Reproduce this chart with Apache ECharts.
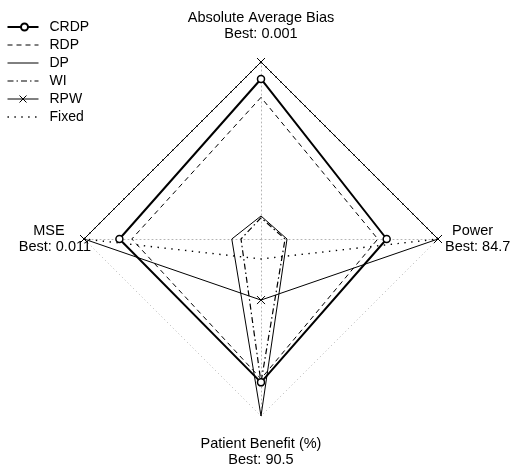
<!DOCTYPE html>
<html>
<head>
<meta charset="utf-8">
<script src="https://cdn.jsdelivr.net/npm/echarts@6/dist/echarts.min.js"></script>
<style>
  html, body { margin: 0; padding: 0; background: #fff; }
  #chart { width: 510px; height: 468px; }
</style>
</head>
<body>
<div id="chart"></div>
<script>
// Radar axes (counter-clockwise from the top) and the best value reached on each
const indicatorNames = ['Absolute Average Bias', 'MSE', 'Patient Benefit (%)', 'Power'];
const bestValues = ['0.001', '0.011', '90.5', '84.7'];

// Normalised scores per design, in indicator order
const designNames = ['CRDP', 'RDP', 'DP', 'WI', 'RPW', 'Fixed'];
const crdp  = [0.904, 0.80, 0.81, 0.71];
const rdp   = [0.80, 0.73, 0.79, 0.66];
const dp    = [0.13, 0.165, 1.0, 0.147];
const wi    = [0.12, 0.113, 0.81, 0.136];
const rpw   = [1.0, 1.0, 0.345, 1.0];
const fixed = [1.0, 1.0, 0.113, 1.0];

const FONT = '"Liberation Sans", Arial, sans-serif';
const GRID_GREY = '#b4b4b4';

// Legend glyphs; the leading moves pin every glyph box to 39 x 8
const BOX = 'M0,0M39,8';
const ICON_LINE = BOX + 'M2,4L33,4';
const ICON_CIRCLE = BOX + 'M2,4L15.5,4M22.5,4L33,4M22.5,4A3.5,3.5,0,1,1,15.5,4A3.5,3.5,0,1,1,22.5,4';
const ICON_CROSS = BOX + 'M2,4L33,4M14,0.5L21,7.5M21,0.5L14,7.5';
const CROSS_SYMBOL = 'path://M0,0L10,10M10,0L0,10';

const styles = {
  CRDP:  { width: 2,   type: 'solid',          icon: ICON_CIRCLE },
  RDP:   { width: 1,   type: [5, 4],           icon: ICON_LINE },
  DP:    { width: 1,   type: 'solid',          icon: ICON_LINE },
  WI:    { width: 1.2, type: [6, 3, 1.5, 3],   icon: ICON_LINE },
  RPW:   { width: 1,   type: 'solid',          icon: ICON_CROSS },
  Fixed: { width: 1.4, type: [1.4, 5.5],       icon: ICON_LINE }
};
const values = { CRDP: crdp, RDP: rdp, DP: dp, WI: wi, RPW: rpw, Fixed: fixed };

// Per-axis text blocks: each axis gets its own spacing around the end point
const nameKey = ['t', 'l', 'b', 'r'];
function axisNameFormatter(name) {
  const i = indicatorNames.indexOf(name);
  const k = nameKey[i];
  return '{' + k + '1|' + name + '}\n{' + k + '2|Best: ' + bestValues[i] + '}';
}
const LH = 16;
function tok(pad) {
  const s = { fontSize: 14.5, color: '#000', fontFamily: FONT, align: 'center', lineHeight: LH };
  if (pad) {
    s.padding = pad;
    s.lineHeight = LH + pad[0] + pad[2];
  }
  return s;
}
const rich = {
  t1: tok(),
  t2: tok([0, 0, 27, 0]),
  b1: tok([27, 0, 0, 0]),
  b2: tok(),
  l1: tok([0, 12, 0, 0]),
  l2: tok(),
  r1: tok([0, 10, 0, 14]),
  r2: tok([0, 0, 0, 14])
};

const series = [{
  type: 'radar',
  silent: true,
  data: designNames.map(function (n) {
    const s = styles[n];
    const item = {
      name: n,
      value: values[n],
      lineStyle: { color: '#000', width: s.width, type: s.type },
      symbol: 'none'
    };
    if (n === 'CRDP') {
      item.symbol = 'circle';
      item.symbolSize = 7;
      item.itemStyle = { color: '#fff', borderColor: '#000', borderWidth: 1.5 };
    } else if (n === 'RPW') {
      item.symbol = CROSS_SYMBOL;
      item.symbolSize = 8;
      item.itemStyle = { color: 'none', borderColor: '#000', borderWidth: 1 };
    }
    return item;
  })
}];

const option = {
  animation: false,
  backgroundColor: '#fff',
  legend: {
    orient: 'vertical',
    left: 3,
    top: 18,
    padding: 0,
    itemGap: 0,
    itemWidth: 39,
    itemHeight: 8,
    selectedMode: false,
    textStyle: { fontSize: 14, lineHeight: 18, color: '#000', fontFamily: FONT },
    data: designNames.map(function (n) {
      const s = styles[n];
      return {
        name: n,
        icon: 'path://' + s.icon,
        itemStyle: { color: 'none', borderColor: '#000', borderWidth: s.width, borderType: s.type }
      };
    })
  },
  radar: {
    center: [261, 239],
    radius: 177,
    startAngle: 90,
    shape: 'polygon',
    splitNumber: 1,
    nameGap: -7,
    indicator: indicatorNames.map(function (n) { return { name: n, min: 0, max: 1 }; }),
    axisName: {
      color: '#000',
      fontSize: 14.5,
      fontFamily: FONT,
      formatter: axisNameFormatter,
      rich: rich
    },
    axisLine: { lineStyle: { color: GRID_GREY, width: 1, type: [1, 3] } },
    splitLine: { lineStyle: { color: GRID_GREY, width: 1, type: [1, 3] } },
    splitArea: { show: false },
    axisTick: { show: false },
    axisLabel: { show: false }
  },
  series: series
};

const chart = echarts.init(document.getElementById('chart'), null, { renderer: 'canvas' });
chart.setOption(option);
</script>
</body>
</html>
